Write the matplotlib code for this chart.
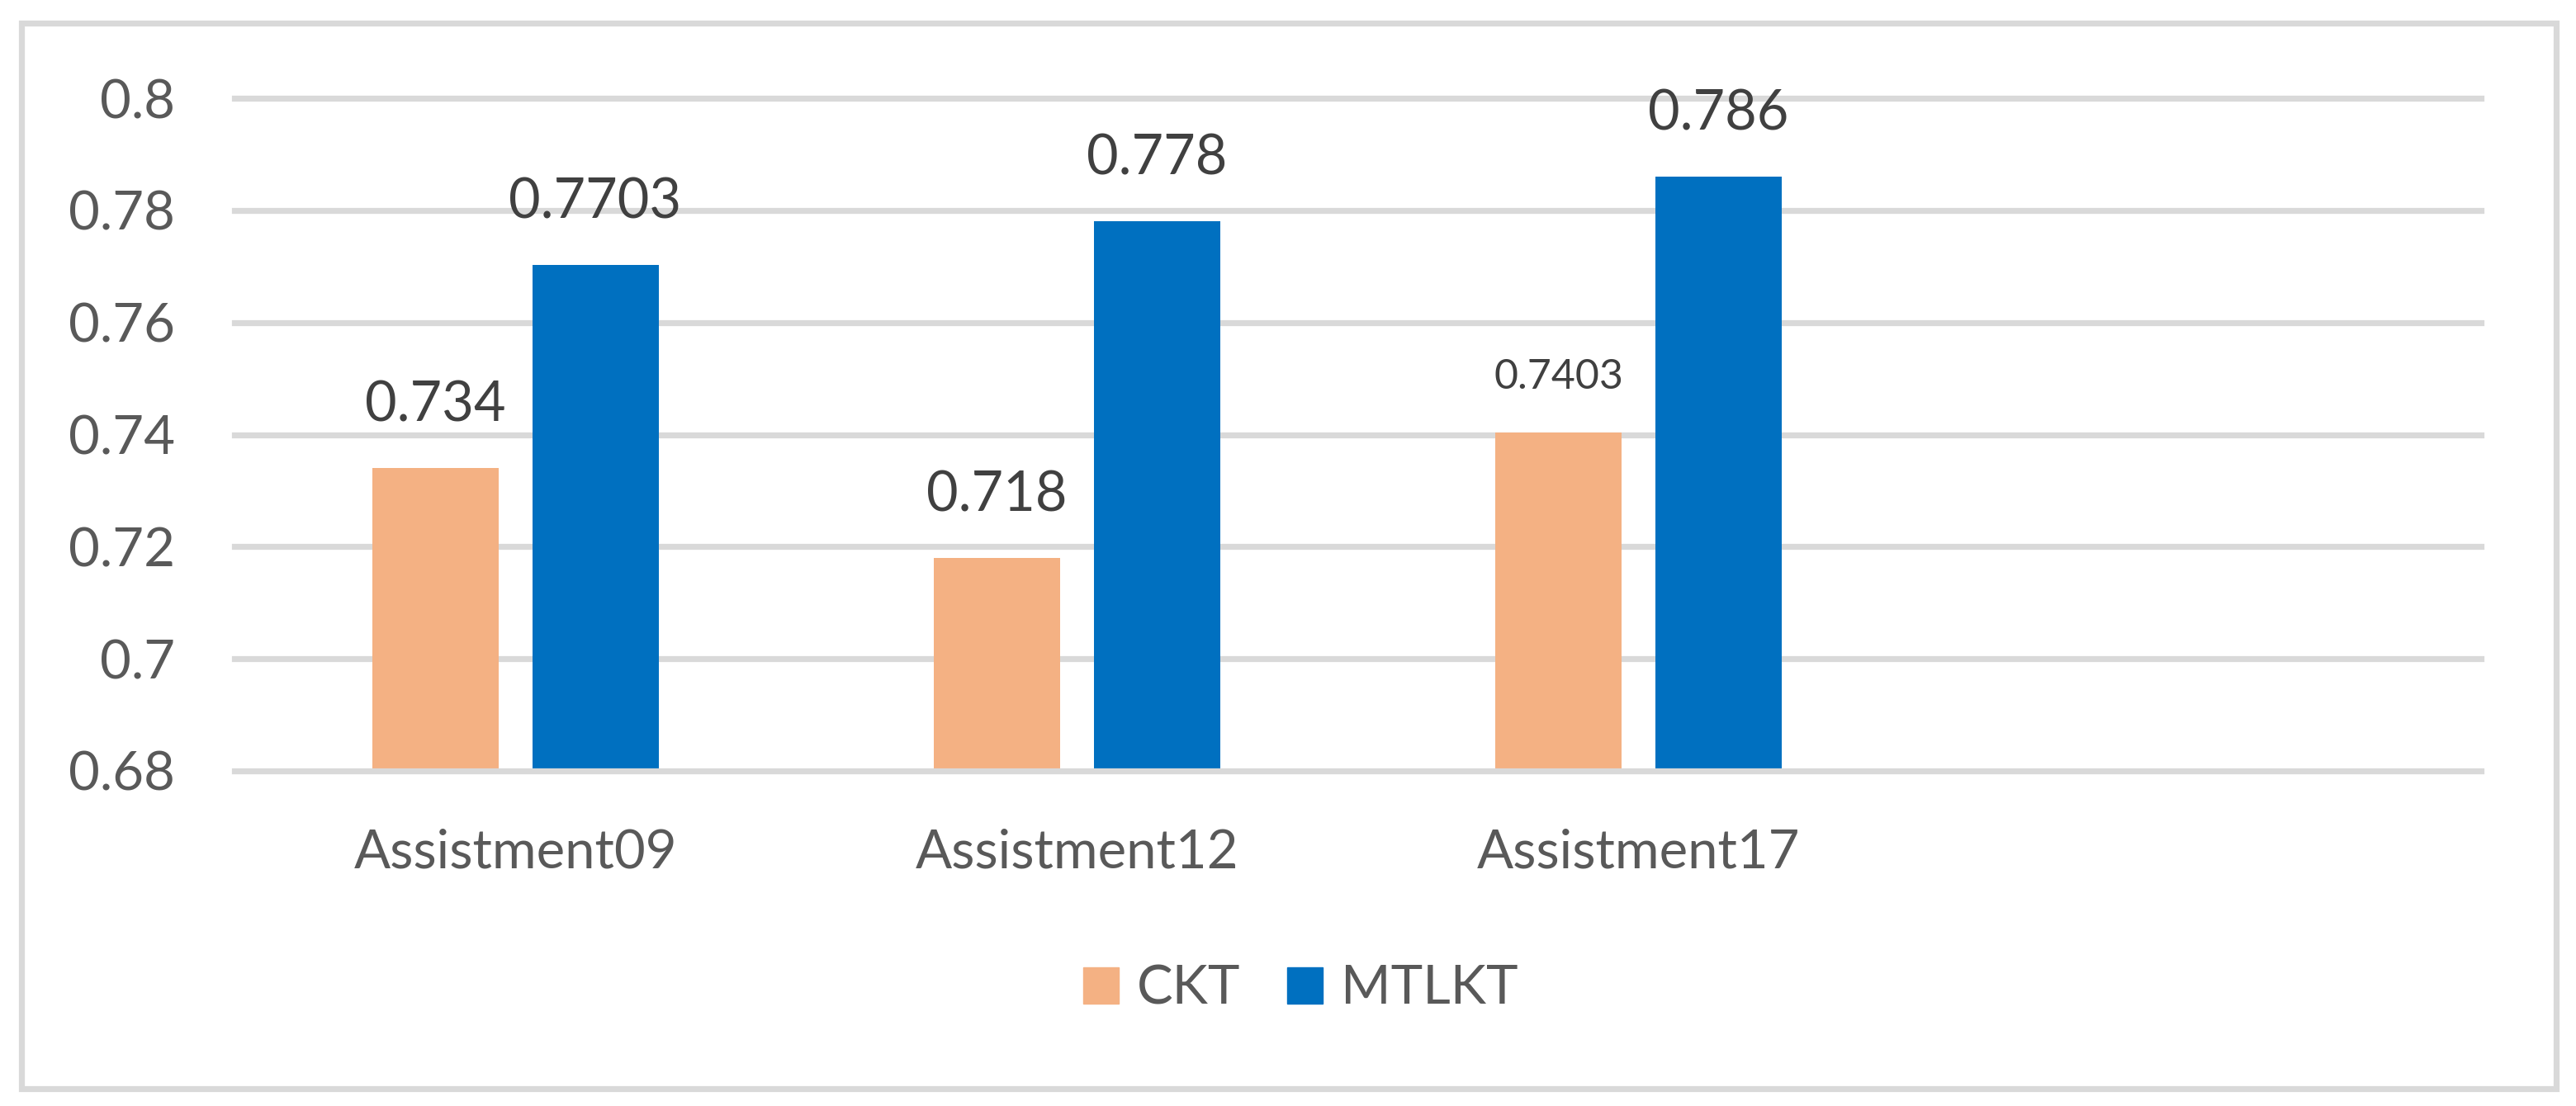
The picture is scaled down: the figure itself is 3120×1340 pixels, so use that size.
import numpy as np
import matplotlib
matplotlib.use("Agg")
import matplotlib.pyplot as plt
from matplotlib.patches import Rectangle, Patch

categories = ["Assistment09", "Assistment12", "Assistment17"]
ckt = [0.734, 0.718, 0.7403]
mtlkt = [0.7703, 0.778, 0.786]
series_names = ["CKT", "MTLKT"]
yticks = [0.68, 0.70, 0.72, 0.74, 0.76, 0.78, 0.80]
ytick_labels = ["0.68", "0.7", "0.72", "0.74", "0.76", "0.78", "0.8"]

c_ckt = "#f4b183"
c_mtlkt = "#0070c0"
grid_c = "#d9d9d9"
tick_c = "#595959"
label_c = "#404040"

plt.rcParams['font.family'] = ['Lato', 'DejaVu Sans']

W, H = 3120, 1340
fig = plt.figure(figsize=(W / 100, H / 100), dpi=100)
ax = fig.add_axes([284 / W, 1 - 934 / H, (3005 - 284) / W, (934 - 119) / H])
ax.set_xlim(-0.5, 3.5)
ax.set_ylim(0.68, 0.80)

for y in yticks:
    ax.axhline(y, color=grid_c, lw=5.2, clip_on=False,
               zorder=3 if y == yticks[0] else 0)

w = 0.225
off = 0.1425
x = np.arange(len(categories))
ax.bar(x - off, np.array(ckt) - 0.68, w, bottom=0.68, color=c_ckt, zorder=2)
ax.bar(x + off, np.array(mtlkt) - 0.68, w, bottom=0.68, color=c_mtlkt, zorder=2)

for xi, v in zip(x - off, ckt):
    fs = 36 if v == 0.7403 else 48
    ax.annotate(str(v), (xi, v), xytext=(0, 32), textcoords="offset points",
                ha="center", va="bottom", fontsize=fs, color=label_c)
for xi, v in zip(x + off, mtlkt):
    ax.annotate(str(v), (xi, v), xytext=(0, 32), textcoords="offset points",
                ha="center", va="bottom", fontsize=48, color=label_c)

ax.set_yticks(yticks)
ax.set_yticklabels(ytick_labels)
ax.set_xticks(x)
ax.set_xticklabels(categories)
ax.tick_params(axis="y", length=0, pad=52, labelsize=47, labelcolor=tick_c)
ax.tick_params(axis="x", length=0, pad=50, labelsize=47, labelcolor=tick_c)
for s in ax.spines.values():
    s.set_visible(False)

handles = [Patch(color=c_ckt), Patch(color=c_mtlkt)]
fig.legend(handles, series_names, loc="center",
           bbox_to_anchor=(1575 / W, 1 - 1198 / H), ncol=2, frameon=False,
           fontsize=47, labelcolor=tick_c, handlelength=0.66, handleheight=0.66,
           handletextpad=0.34, columnspacing=0.86)

fig.patches.append(Rectangle((26 / W, 1 - 1319 / H), (3096 - 26) / W, (1319 - 28) / H,
                             transform=fig.transFigure, fill=False,
                             edgecolor=grid_c, lw=5.2))

fig.savefig("out.png", dpi=100, facecolor="white")
